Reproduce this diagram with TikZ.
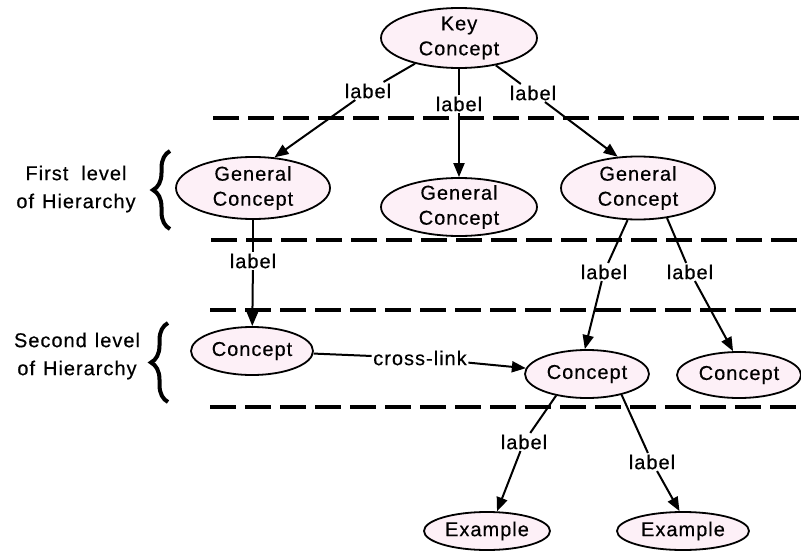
\documentclass[tikz,border=0pt]{standalone}
\usepackage{fontspec}
\setmainfont[LetterSpace=5,FakeBold=0.4]{Liberation Sans}
\usetikzlibrary{shapes.geometric,arrows.meta,decorations.pathreplacing}
\definecolor{pinkfill}{RGB}{253,240,247}
\begin{document}
\begin{tikzpicture}[x=1pt,y=-1pt,
  every node/.style={font=\fontsize{20}{25}\selectfont},
  cnode/.style={ellipse, draw, line width=1.8pt, fill=pinkfill, inner xsep=0pt, inner ysep=-8pt, align=center},
  lab/.style={inner sep=1.5pt},
  conn/.style={line width=2pt},
  arr/.style={conn, -{Triangle[length=14pt,width=11pt]}},
  hline/.style={line width=3.5pt, dash pattern=on 26pt off 9pt},
  hbrace/.style={decorate, decoration={brace, amplitude=17pt}, line width=4pt},
  hier/.style={align=center, inner sep=0pt, font=\fontsize{20}{28}\selectfont}
]
\useasboundingbox (0,0) rectangle (801,551);

% level separators
\coordinate (h1a) at (213,118); \coordinate (h1b) at (801,118);
\coordinate (h2a) at (211,240); \coordinate (h2b) at (801,240);
\coordinate (h3a) at (210,310); \coordinate (h3b) at (801,310);
\coordinate (h4a) at (210,407); \coordinate (h4b) at (801,407);
\draw[hline] (h1a) -- (h1b);
\draw[hline] (h2a) -- (h2b);
\draw[hline] (h3a) -- (h3b);
\draw[hline] (h4a) -- (h4b);

% concepts
\node[cnode, minimum width=156pt, minimum height=60pt] (key) at (459,38) {Key\\Concept};
\node[cnode, minimum width=154pt, minimum height=62pt] (gc1) at (253,188) {General\\Concept};
\node[cnode, minimum width=156pt, minimum height=58pt] (gc2) at (459,207) {General\\Concept};
\node[cnode, minimum width=154pt, minimum height=63pt] (gc3) at (638,188) {General\\Concept};
\node[cnode, minimum width=122pt, minimum height=48pt] (c1) at (252,351) {Concept};
\node[cnode, minimum width=124pt, minimum height=48pt] (c2) at (587,374) {Concept};
\node[cnode, minimum width=124pt, minimum height=46pt] (c3) at (739,375) {Concept};
\node[cnode, minimum width=126pt, minimum height=38pt] (ex1) at (487,531) {Example};
\node[cnode, minimum width=132pt, minimum height=38pt] (ex2) at (683,531) {Example};

% link labels
\node[lab] (l1) at (368,91) {label};
\node[lab] (l2) at (459,104) {label};
\node[lab] (l3) at (533,93) {label};
\node[lab] (l4) at (253,261) {label};
\node[lab] (l5) at (604,272) {label};
\node[lab] (l6) at (690,272) {label};
\node[lab] (cl) at (420,358) {cross-link};
\node[lab] (l7) at (524,442) {label};
\node[lab] (l8) at (652,462) {label};

% links
\draw[conn] (key) -- (l1);
\draw[arr] (l1) -- (gc1.55);
\draw[conn] (key) -- (l2);
\draw[arr] (l2) -- (gc2);
\draw[conn] (key) -- (l3);
\draw[arr] (l3) -- (gc3.123);
\draw[conn] (gc1) -- (l4);
\draw[arr] (l4) -- (c1);
\draw[conn] (gc3.252) -- (l5);
\draw[arr] (l5) -- (c2.95);
\draw[conn] (gc3.314) -- (l6);
\draw[arr] (l6) -- (c3.104);
\draw[conn] (c1) -- (cl);
\draw[arr] (cl) -- (c2);
\draw[conn] (c2.215) -- (l7);
\draw[arr] (l7) -- (ex1.63);
\draw[conn] (c2.329) -- (l8);
\draw[arr] (l8) -- (ex2.100);

% hierarchy annotations
\node[hier] (t1) at (76,189) {First\hspace{13pt}level\\of\hspace{8pt}Hierarchy};
\node[hier] (t2) at (77,356) {Second\hspace{8pt}level\\of\hspace{8pt}Hierarchy};
\coordinate (b1t) at (170,151); \coordinate (b1b) at (170,229);
\coordinate (b2t) at (168,323); \coordinate (b2b) at (168,402);
\draw[hbrace] (b1b) -- (b1t);
\draw[hbrace] (b2b) -- (b2t);
\end{tikzpicture}
\end{document}
